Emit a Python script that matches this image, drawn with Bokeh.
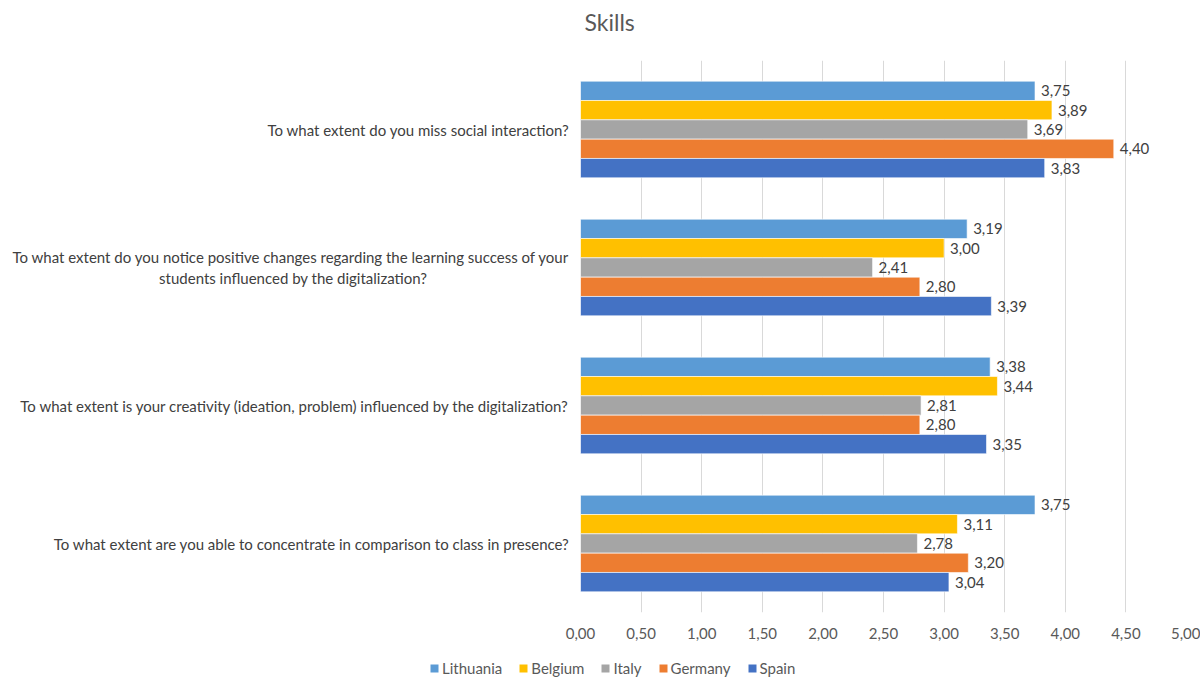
from bokeh.plotting import figure
from bokeh.layouts import column
from bokeh.models import FactorRange, FixedTicker, Legend, LegendItem, ColumnDataSource, Range1d, Label
from bokeh.transform import dodge
from bokeh.core.properties import value
from bokeh.embed import file_html
from bokeh.resources import INLINE

NB = "\u00a0"
title_text = "Skills"
questions = [
    "To what extent do you miss social interaction?",
    "To what extent do you notice positive changes regarding the learning success of your\nstudents influenced by the digitalization?" + NB * 37,
    "To what extent is your creativity (ideation, problem) influenced by the digitalization?",
    "To what extent are you able to concentrate in comparison to class in presence?",
]
countries = ["Lithuania", "Belgium", "Italy", "Germany", "Spain"]
lithuania = [3.75, 3.19, 3.38, 3.75]
belgium = [3.89, 3.00, 3.44, 3.11]
italy = [3.69, 2.41, 2.81, 2.78]
germany = [4.40, 2.80, 2.80, 3.20]
spain = [3.83, 3.39, 3.35, 3.04]
colors = ["#5B9BD5", "#FFC000", "#A5A5A5", "#ED7D31", "#4472C4"]
x_ticks = [0.0, 0.5, 1.0, 1.5, 2.0, 2.5, 3.0, 3.5, 4.0, 4.5, 5.0]
x_tick_labels = ["0,00", "0,50", "1,00", "1,50", "2,00", "2,50", "3,00", "3,50", "4,00", "4,50", "5,00"]

series = [lithuania, belgium, italy, germany, spain]

FONT = "Lato"
W = 1200

# ---------- header strip with the title ----------
HEAD_H = 38
p0 = figure(width=W, height=HEAD_H, x_range=Range1d(0, W), y_range=Range1d(0, HEAD_H),
            output_backend="svg", toolbar_location=None, min_border=0,
            x_axis_location=None, y_axis_location=None, title=None)
p0.frame_align = False
p0.outline_line_color = None
p0.xgrid.grid_line_color = None
p0.ygrid.grid_line_color = None
p0.add_layout(Label(x=584, y=HEAD_H - 21, text=title_text, text_font=FONT, text_font_size="23px",
                    text_color="#595959", text_baseline="middle", text_align="left"))

# ---------- main chart ----------
p = figure(
    width=W, height=612,
    y_range=FactorRange(factors=list(reversed(questions))),
    x_range=Range1d(0, 5),
    output_backend="svg", toolbar_location=None, title=None,
    min_border_left=580, min_border_right=14, min_border_top=22, min_border_bottom=38,
)
p.frame_align = False
p.outline_line_color = None
p.background_fill_color = "white"

src = ColumnDataSource(dict(q=questions, **{c: s for c, s in zip(countries, series)},
                            **{c + "_lbl": [f"{v:.2f}".replace(".", ",") for v in s] for c, s in zip(countries, series)}))

bar_h = 0.14
for i, c in enumerate(countries):
    off = (2 - i) * bar_h
    p.hbar(y=dodge("q", off, range=p.y_range), left=0, right=c, height=bar_h,
           source=src, fill_color=colors[i], line_color="white", line_width=0.6)
    p.text(x=c, y=dodge("q", off, range=p.y_range), text=c + "_lbl", source=src,
           x_offset=6, text_baseline="middle", text_align="left",
           text_font=value(FONT), text_font_size="15px", text_color="#404040")

p.xaxis.ticker = FixedTicker(ticks=x_ticks)
p.xaxis.major_label_overrides = {t: l for t, l in zip(x_ticks, x_tick_labels)}
p.xaxis.axis_line_color = None
p.xaxis.major_tick_line_color = None
p.xaxis.minor_tick_line_color = None
p.xaxis.major_label_text_font = FONT
p.xaxis.major_label_text_font_size = "15px"
p.xaxis.major_label_text_color = "#595959"
p.xaxis.major_label_standoff = 9

p.yaxis.axis_line_color = None
p.yaxis.major_tick_line_color = None
p.yaxis.minor_tick_line_color = None
p.yaxis.major_label_text_font = FONT
p.yaxis.major_label_text_font_size = "15px"
p.yaxis.major_label_text_color = "#404040"
p.yaxis.major_label_standoff = 5

p.xgrid.grid_line_color = "#D9D9D9"
p.xgrid.grid_line_width = 1
p.ygrid.grid_line_color = None

# ---------- legend strip below the chart ----------
p2 = figure(width=W, height=27, x_range=Range1d(0, 1), y_range=Range1d(0, 1),
            output_backend="svg", toolbar_location=None, min_border=0,
            x_axis_location=None, y_axis_location=None, title=None)
p2.frame_align = False
p2.outline_line_color = None
p2.xgrid.grid_line_color = None
p2.ygrid.grid_line_color = None
items = []
for i, c in enumerate(countries):
    # zero-width stand-in bar, only used as the legend swatch
    r = p2.hbar(y=[0.5], left=[0], right=[0], height=0.5, fill_color=colors[i], line_color=None)
    items.append(LegendItem(label=c, renderers=[r]))
legend = Legend(items=items, orientation="horizontal", location=(429, 0),
                glyph_width=10, glyph_height=10, label_standoff=3, spacing=16,
                padding=0, margin=0, border_line_color=None, background_fill_alpha=0,
                label_text_font=FONT, label_text_font_size="15px", label_text_color="#595959")
p2.add_layout(legend)

layout = column(p0, p, p2, spacing=0)
open("out.html", "w").write(file_html(layout, INLINE))
